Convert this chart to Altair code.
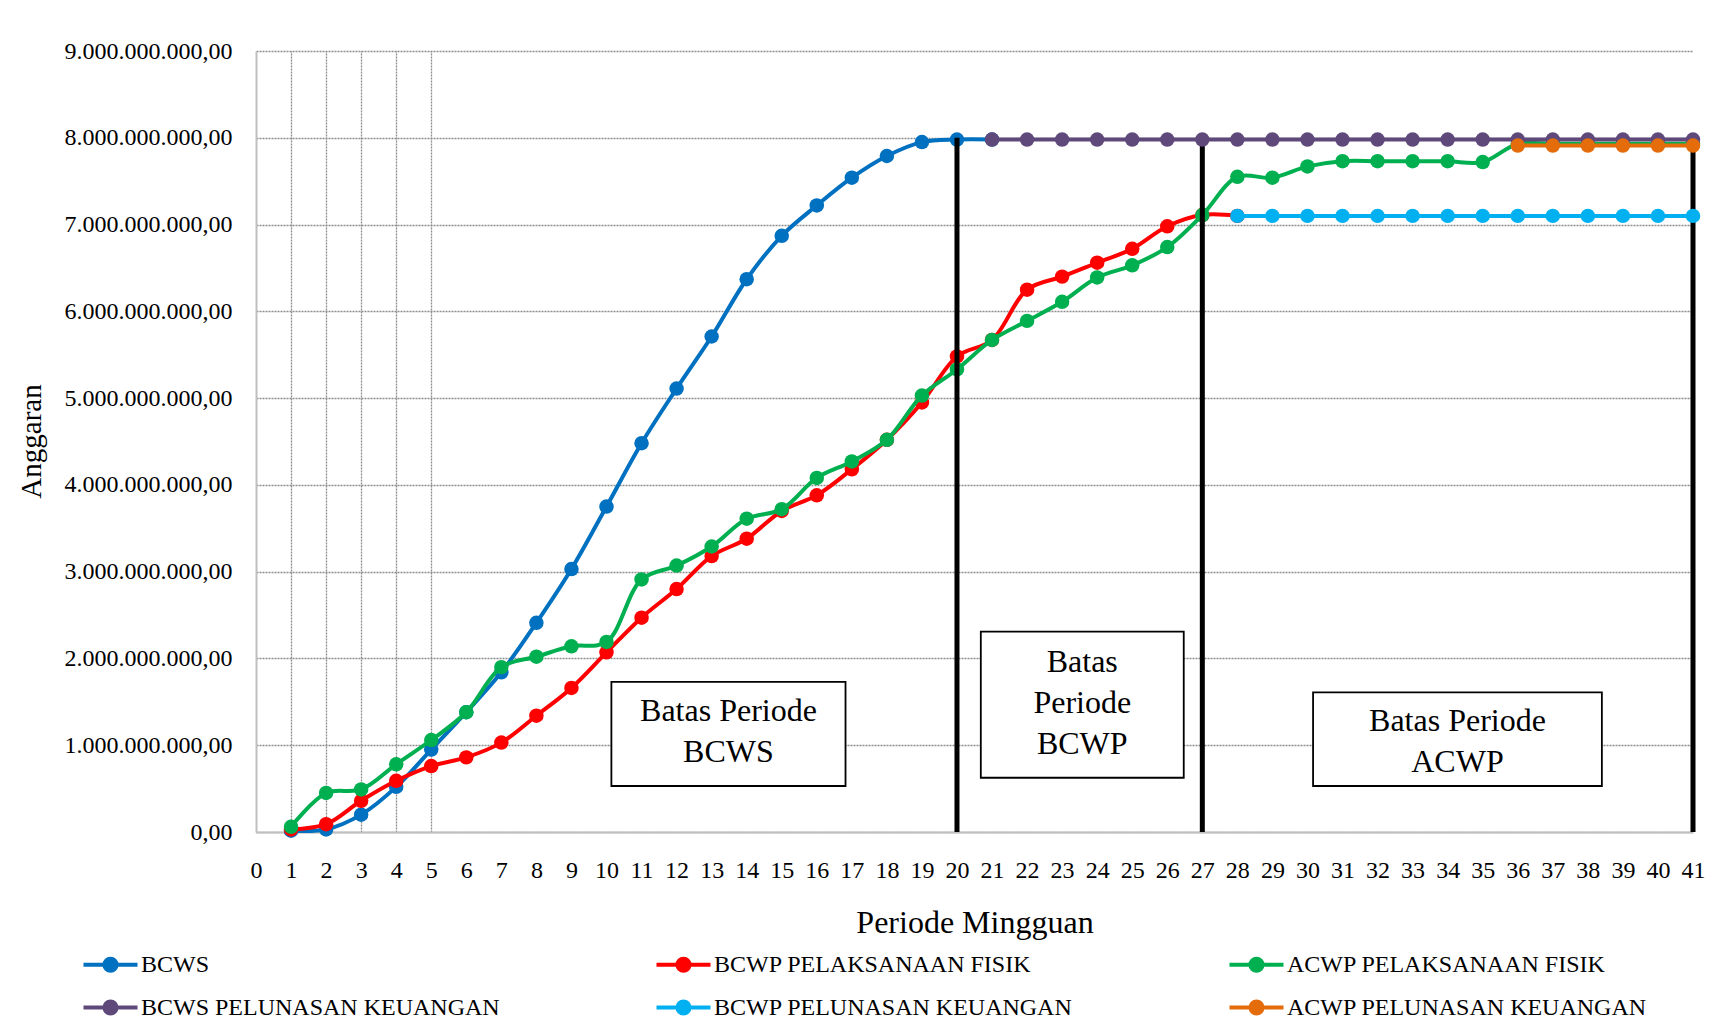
import altair as alt
import pandas as pd

FONT = "Liberation Serif"

# ---------------- data (values in billions of Rupiah) ----------------
series_names = [
    "BCWS",
    "BCWP PELAKSANAAN FISIK",
    "ACWP PELAKSANAAN FISIK",
    "BCWS PELUNASAN KEUANGAN",
    "BCWP PELUNASAN KEUANGAN",
    "ACWP PELUNASAN KEUANGAN",
]
series_colors = ["#0070C0", "#FF0000", "#00B050", "#5F497A", "#00B0F0", "#E46C0A"]

bcws_periods = list(range(1, 22))
bcws_values = [0.015, 0.03, 0.20, 0.52, 0.95, 1.38, 1.84, 2.41, 3.03, 3.75, 4.48,
               5.11, 5.71, 6.37, 6.87, 7.22, 7.54, 7.79, 7.95, 7.98, 7.98]

bcwp_periods = list(range(1, 29))
bcwp_values = [0.03, 0.09, 0.36, 0.59, 0.76, 0.86, 1.03, 1.34, 1.66, 2.07, 2.47,
               2.80, 3.18, 3.38, 3.70, 3.88, 4.18, 4.52, 4.95, 5.48, 5.67, 6.25,
               6.40, 6.56, 6.72, 6.98, 7.11, 7.10]

acwp_periods = list(range(1, 42))
acwp_values = [0.06, 0.45, 0.49, 0.78, 1.06, 1.38, 1.90, 2.02, 2.14, 2.19, 2.91,
               3.07, 3.29, 3.61, 3.72, 4.08, 4.27, 4.52, 5.03, 5.33, 5.67, 5.89,
               6.11, 6.39, 6.53, 6.74, 7.11, 7.55, 7.54, 7.67, 7.73, 7.73, 7.73,
               7.73, 7.72, 7.93, 7.93, 7.93, 7.93, 7.93, 7.93]

bcws_pel_periods = list(range(21, 42))
bcws_pel_values = [7.98, 7.98, 7.98, 7.98, 7.98, 7.98, 7.98, 7.98, 7.98, 7.98, 7.98,
                   7.98, 7.98, 7.98, 7.98, 7.98, 7.98, 7.98, 7.98, 7.98, 7.98]

bcwp_pel_periods = list(range(28, 42))
bcwp_pel_values = [7.10, 7.10, 7.10, 7.10, 7.10, 7.10, 7.10, 7.10, 7.10, 7.10,
                   7.10, 7.10, 7.10, 7.10]

acwp_pel_periods = list(range(36, 42))
acwp_pel_values = [7.91, 7.91, 7.91, 7.91, 7.91, 7.91]

x_ticks = list(range(0, 42))
y_ticks = [0, 1e9, 2e9, 3e9, 4e9, 5e9, 6e9, 7e9, 8e9, 9e9]
vertical_grid_periods = [1, 2, 3, 4, 5]

batas_periods = [20, 27, 41]
batas_top = 8.0  # billions

box_texts = ["Batas Periode\nBCWS", "Batas\nPeriode\nBCWP", "Batas Periode\nACWP"]
box_x0 = [10.14, 20.68, 30.16]
box_x1 = [16.82, 26.47, 38.40]
box_y0 = [0.53, 0.625, 0.53]
box_y1 = [1.73, 2.31, 1.61]
box_first_line_y = [1.395, 1.964, 1.282]

# ---------------- build tables ----------------
all_series = [
    (bcws_periods, bcws_values),
    (bcwp_periods, bcwp_values),
    (acwp_periods, acwp_values),
    (bcws_pel_periods, bcws_pel_values),
    (bcwp_pel_periods, bcwp_pel_values),
    (acwp_pel_periods, acwp_pel_values),
]
rows = []
for name, (ps, vs) in zip(series_names, all_series):
    for p, v in zip(ps, vs):
        rows.append({"series": name, "periode": p, "nilai": v * 1e9})
df = pd.DataFrame(rows)

boxes = pd.DataFrame({
    "text": box_texts,
    "x0": box_x0, "x1": box_x1,
    "y0": [v * 1e9 for v in box_y0], "y1": [v * 1e9 for v in box_y1],
    "xc": [(a + b) / 2 for a, b in zip(box_x0, box_x1)],
    "yt": [v * 1e9 for v in box_first_line_y],
})
batas = pd.DataFrame({"periode": batas_periods,
                      "top": [batas_top * 1e9] * len(batas_periods),
                      "bottom": [0.0] * len(batas_periods)})

# ---------------- scales / axes ----------------
x_scale = alt.Scale(domain=[0, 41], nice=False, zero=False)
y_scale = alt.Scale(domain=[0, 9e9], nice=False)

y_label_expr = ("datum.value == 0 ? '0,00' : "
                "format(datum.value / 1e9, 'd') + '.000.000.000,00'")

y_axis = alt.Axis(
    values=y_ticks, title="Anggaran", labelExpr=y_label_expr,
    grid=True, gridColor="#8C8C8C", gridDash=[2, 1], gridWidth=1.3,
    ticks=False, tickSize=0, labelPadding=24,
    domain=True, domainColor="#BFBFBF", domainWidth=2,
    labelFont=FONT, labelFontSize=24, labelColor="black",
    titleFont=FONT, titleFontSize=29, titleFontWeight="normal", titleColor="black",
    titleAngle=270, titleBaseline="middle", titleX=-225, titleY=390,
)

x_axis_main = alt.Axis(
    values=x_ticks, title="Periode Mingguan", orient="bottom",
    grid=False, ticks=False, tickSize=0, labelPadding=38, labelBaseline="middle",
    labelAngle=0, labelFlush=False,
    domain=True, domainColor="#BFBFBF", domainWidth=2,
    labelFont=FONT, labelFontSize=24, labelColor="black",
    titleFont=FONT, titleFontSize=32, titleFontWeight="normal", titleColor="black",
    titleBaseline="middle", titleY=90,
)

x_axis_grid = alt.Axis(
    values=vertical_grid_periods, title=None, orient="top",
    grid=True, gridColor="#8C8C8C", gridDash=[2, 1], gridWidth=1.3,
    labels=False, ticks=False, domain=False,
)

legend_symbol = ("M-2,0L2,0M-0.444,0A0.444,0.444,0,1,0,0.444,0"
                 "A0.444,0.444,0,1,0,-0.444,0Z")
legend = alt.Legend(
    title=None, orient="none", legendX=-161, legendY=898,
    direction="horizontal", columns=3, gridAlign="all",
    columnPadding=147, rowPadding=13,
    symbolType=legend_symbol, symbolSize=729, symbolStrokeWidth=4,
    labelFont=FONT, labelFontSize=24, labelColor="black", labelOffset=15,
    labelLimit=0,
)
color_scale = alt.Scale(domain=series_names, range=series_colors)

# ---------------- layers ----------------
box_layer = alt.Chart(boxes).mark_rect(
    fill="white", stroke="black", strokeWidth=1.8
).encode(
    x=alt.X("x0:Q", scale=x_scale, axis=x_axis_grid),
    x2="x1:Q",
    y=alt.Y("y0:Q", scale=y_scale, axis=y_axis),
    y2="y1:Q",
)

box_text_layer = alt.Chart(boxes).mark_text(
    font=FONT, fontSize=32, color="black", lineBreak="\n", lineHeight=41,
    align="center", baseline="middle"
).encode(
    x=alt.X("xc:Q", scale=x_scale, axis=None),
    y=alt.Y("yt:Q", scale=y_scale, axis=y_axis),
    text="text:N",
)


def series_layers(name, main_axis=False):
    base = alt.Chart(df).transform_filter(alt.datum.series == name)
    line = base.mark_line(strokeWidth=4, interpolate="catmull-rom").encode(
        x=alt.X("periode:Q", scale=x_scale,
                axis=x_axis_main if main_axis else None),
        y=alt.Y("nilai:Q", scale=y_scale, axis=y_axis),
        stroke=alt.Stroke("series:N", scale=color_scale, legend=legend),
    )
    pts = base.mark_point(filled=True, size=210, opacity=1).encode(
        x=alt.X("periode:Q", scale=x_scale, axis=None),
        y=alt.Y("nilai:Q", scale=y_scale, axis=y_axis),
        fill=alt.Fill("series:N", scale=color_scale, legend=legend),
    )
    return [line, pts]


rule_layer = alt.Chart(batas).mark_rule(color="black", strokeWidth=5).encode(
    x=alt.X("periode:Q", scale=x_scale, axis=None),
    y=alt.Y("top:Q", scale=y_scale, axis=y_axis),
    y2="bottom:Q",
)

layers = [box_layer, box_text_layer]
layers += series_layers(series_names[0], main_axis=True)
layers += series_layers(series_names[1])
layers += series_layers(series_names[2])
layers += [rule_layer]
layers += series_layers(series_names[3])
layers += series_layers(series_names[4])
layers += series_layers(series_names[5])

chart = alt.layer(*layers).resolve_axis(
    x="independent"
).properties(
    width=1437, height=781,
    padding={"left": 248, "top": 43, "right": 15, "bottom": 188},
    autosize=alt.AutoSizeParams(type="none"),
    background="white",
).configure_view(
    strokeWidth=0
)

chart.save("out.html", embed_options={"renderer": "svg", "actions": False})
